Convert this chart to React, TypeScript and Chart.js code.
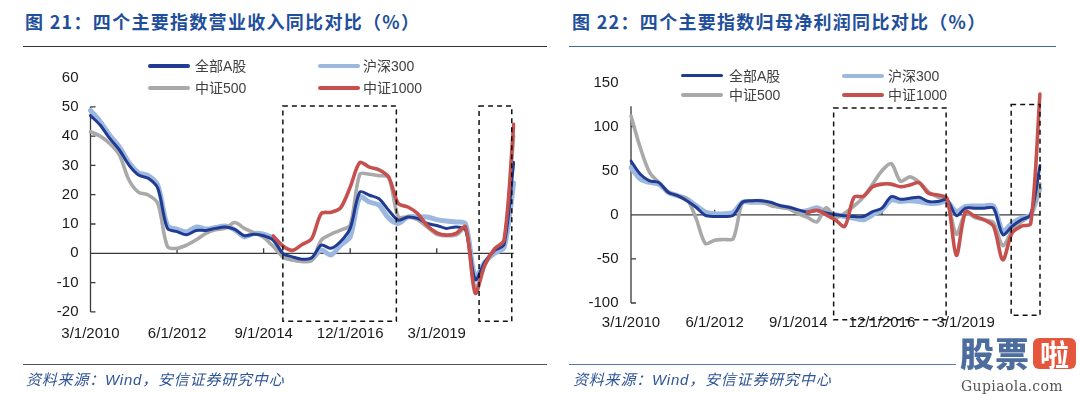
import React, { useEffect, useRef } from "react";
import { Chart, registerables } from "chart.js";

Chart.register(...registerables);

// ---------- data ----------
const CATEGORIES: string[] = [
  "3/1/2010", "6/1/2010", "9/1/2010", "12/1/2010",
  "3/1/2011", "6/1/2011", "9/1/2011", "12/1/2011",
  "3/1/2012", "6/1/2012", "9/1/2012", "12/1/2012",
  "3/1/2013", "6/1/2013", "9/1/2013", "12/1/2013",
  "3/1/2014", "6/1/2014", "9/1/2014", "12/1/2014",
  "3/1/2015", "6/1/2015", "9/1/2015", "12/1/2015",
  "3/1/2016", "6/1/2016", "9/1/2016", "12/1/2016",
  "3/1/2017", "6/1/2017", "9/1/2017", "12/1/2017",
  "3/1/2018", "6/1/2018", "9/1/2018", "12/1/2018",
  "3/1/2019", "6/1/2019", "9/1/2019", "12/1/2019",
  "3/1/2020", "6/1/2020", "9/1/2020", "12/1/2020",
  "3/1/2021",
];
const TICK_LABELS: string[] = ["3/1/2010", "6/1/2012", "9/1/2014", "12/1/2016", "3/1/2019"];
const SERIES_NAMES: string[] = ["全部A股", "沪深300", "中证500", "中证1000"];

// 图21 营业收入同比 (%)
const REV_ALL_A: (number | null)[] = [47, 43.8, 39.2, 35.3, 30.1, 26.7, 25.6, 22.2, 8.5, 7.4, 6.3, 7.8, 7.8, 8.5, 9, 8.2, 6, 6.5, 6, 4.5, 0, -1.2, -2, -1.5, 2.8, 1.7, 4, 8.5, 20.9, 19.8, 18.6, 14.7, 11.3, 12.4, 11.9, 10.2, 9.5, 8.5, 9, 8, -9, -3, 1, 3, 31];
const REV_HS300: (number | null)[] = [48.8, 45, 40.3, 36.3, 31, 27.5, 26.5, 23.2, 9.5, 8.2, 7.3, 9, 8.3, 8.8, 9.3, 8, 5.6, 6.8, 6.5, 5, -1, -2, -2.5, -2, 1.1, -0.6, 2.8, 5.6, 19.2, 17.5, 16.4, 12, 10.2, 12.4, 12.4, 12.4, 11.5, 11, 10.7, 10, -8, -3, 0, 2, 24];
const REV_ZZ500: (number | null)[] = [41.5, 40, 37.5, 33.6, 25, 20.8, 19.9, 17, 2.3, 1.7, 2.8, 4.6, 6.8, 8, 8.5, 10.5, 8.5, 7, 5.5, 2.3, -1.1, -2.3, -2.8, -2.5, 4.5, 6.5, 7.9, 9.6, 27, 27, 26.5, 26, 12.5, 12.4, 11.5, 9, 6.5, 6, 6.2, 8.5, -12, -4, 1, 3.5, 40];
const REV_ZZ1000: (number | null)[] = [null, null, null, null, null, null, null, null, null, null, null, null, null, null, null, null, null, null, null, 5.9, 2.5, 1, 3, 5, 13.6, 14, 15.5, 22.6, 31, 29.4, 28.5, 26, 17, 15.8, 13.6, 9.5, 7, 6.2, 6.8, 9, -13.6, -4, 1.5, 4.5, 44];

// 图22 归母净利润同比 (%)
const NP_ALL_A: (number | null)[] = [61, 46, 38.6, 36.7, 25.5, 21.7, 16, 8.6, -0.7, -1.9, -1.9, -0.7, 14.2, 16, 16, 14.2, 10.5, 8.6, 5.6, 3, 4.9, 2, 0, -1, -2, -2, 3.7, 7.5, 20.6, 17.6, 18.7, 19.9, 15, 15, 16.9, -1, 7.5, 7.5, 7.5, 7.5, -22.5, -13, -5.6, 0, 56];
const NP_HS300: (number | null)[] = [53.5, 40.4, 36.7, 34.8, 25.5, 21.7, 18, 10.5, 3, 1.1, 1.1, 3, 14.2, 14.2, 14.2, 12.4, 9.4, 7.9, 3, 4.9, 8, 3, 0, -2, -4, -5.6, 0, 5.6, 16.9, 15, 16, 15, 13, 13, 15, 3.7, 9.4, 10, 10, 10, -18.7, -9.4, -3.7, 0, 30];
const NP_ZZ500: (number | null)[] = [112, 76, 48, 36.7, 25.5, 21.7, 18, -4, -32.6, -28.8, -28, -27, 14.2, 15.4, 16.1, 10.5, 8.6, 6.7, 1.1, -3, -8, 8, -3, 2, 10, 20, 35, 50, 58, 38, 43, 37, 26, 20, 15, -22, 2, -3, -6, -9, -35, -18, -8, 0, 35];
const NP_ZZ1000: (number | null)[] = [null, null, null, null, null, null, null, null, null, null, null, null, null, null, null, null, null, null, null, 3, 5, 0, -6, -13, 20, 21, 31.8, 34.8, 34.8, 31.8, 33.7, 36.3, 24.3, 22.5, 18.7, -46, 3.7, -1.9, -5.6, -13, -51, -20.6, -13, -10, 137];

// highlighted periods: [fromIndex, toIndex, topValue, bottomValue]
const REV_BOXES: number[][] = [[20, 31.8, 50.3, -23.2], [40.4, 43.8, 50.3, -23.2]];
const NP_BOXES: number[][] = [[21.8, 33.9, 121, -119], [40.9, 44, 125, -114]];

// ---------- styles ----------
const COLORS = ["#1f3b93", "#9db8df", "#a9a9a9", "#c5504e"];
const WIDTHS = [3, 5, 3.6, 3.6];
const SANS = '"Liberation Sans", Arial, "Noto Sans CJK SC", sans-serif';
const CJK = '"Noto Sans CJK SC", "Liberation Sans", sans-serif';
const W = 540;
const H = 394;
const X_AXIS_H = 40;

const framePlugin = {
  id: "frame",
  beforeDatasetsDraw(chart: any, _args: any, opts: any) {
    const { ctx, chartArea: ca, scales } = chart;
    const x = scales.x;
    const y = scales.y;
    ctx.save();
    ctx.strokeStyle = "#3a3a3a";
    ctx.lineWidth = 1.3;
    const y0 = y.getPixelForValue(0);
    ctx.beginPath();
    ctx.moveTo(ca.left, y0);
    ctx.lineTo(ca.right, y0);
    const ax = ca.left;
    ctx.moveTo(ax, y.getPixelForValue(opts.axisTop));
    ctx.lineTo(ax, y.getPixelForValue(y.min));
    for (const t of y.ticks) {
      if (t.value <= opts.axisTop) {
        const py = y.getPixelForValue(t.value);
        ctx.moveTo(ax, py);
        ctx.lineTo(ax + 5, py);
      }
    }
    for (const t of x.ticks) {
      const lbl = CATEGORIES[t.value];
      if (t.value > 0 && TICK_LABELS.includes(lbl)) {
        const px = x.getPixelForValue(t.value);
        ctx.moveTo(px, y0);
        ctx.lineTo(px, y0 - 5);
      }
    }
    ctx.stroke();
    ctx.restore();
  },
  afterDatasetsDraw(chart: any, _args: any, opts: any) {
    const { ctx, scales } = chart;
    const x = scales.x;
    const y = scales.y;
    ctx.save();
    ctx.strokeStyle = "#111";
    ctx.lineWidth = 1.5;
    ctx.setLineDash([5, 4]);
    for (const b of opts.boxes) {
      const x0 = x.getPixelForValue(b[0]);
      const x1 = x.getPixelForValue(b[1]);
      const yt = y.getPixelForValue(b[2]);
      const yb = y.getPixelForValue(b[3]);
      ctx.strokeRect(x0, yt, x1 - x0, yb - yt);
    }
    ctx.restore();
  },
};

type Area = { left: number; right: number; top: number; bottom: number; xPad: number; yPad: number };

function LineChart(props: {
  series: (number | null)[][];
  yMin: number;
  yMax: number;
  yStep: number;
  axisTop: number;
  boxes: number[][];
  area: Area;
  left: number;
}) {
  const ref = useRef<HTMLCanvasElement | null>(null);
  useEffect(() => {
    if (!ref.current) return;
    const { series, area } = props;
    // draw order: first dataset on top
    const order = [3, 0, 2, 1];
    const chart = new Chart(ref.current, {
      type: "line",
      data: {
        labels: CATEGORIES,
        datasets: order.map((k) => ({
          label: SERIES_NAMES[k],
          data: series[k],
          borderColor: COLORS[k],
          backgroundColor: COLORS[k],
          borderWidth: WIDTHS[k],
          pointRadius: 0,
          tension: 0.3,
          borderJoinStyle: "round",
          borderCapStyle: "round",
          fill: false,
        })),
      },
      options: {
        responsive: false,
        animation: false,
        events: [],
        layout: {
          padding: {
            left: 0,
            right: W - area.right,
            top: area.top,
            bottom: H - area.bottom - X_AXIS_H,
          },
        },
        plugins: {
          legend: { display: false },
          tooltip: { enabled: false },
          frame: { axisTop: props.axisTop, boxes: props.boxes },
        } as any,
        scales: {
          x: {
            type: "category",
            offset: false,
            grid: { display: false, drawTicks: false },
            border: { display: false },
            ticks: {
              autoSkip: false,
              maxRotation: 0,
              minRotation: 0,
              padding: area.xPad,
              color: "#1a1a1a",
              font: { family: SANS, size: 15 },
              callback: (_v: any, i: number) => (TICK_LABELS.includes(CATEGORIES[i]) ? CATEGORIES[i] : null),
            },
            afterFit: (s: any) => {
              s.height = X_AXIS_H;
            },
          },
          y: {
            min: props.yMin,
            max: props.yMax,
            grid: { display: false, drawTicks: false },
            border: { display: false },
            ticks: {
              stepSize: props.yStep,
              padding: area.yPad,
              color: "#1a1a1a",
              font: { family: SANS, size: 15 },
            },
            afterFit: (s: any) => {
              s.width = area.left;
            },
          },
        },
      } as any,
      plugins: [framePlugin as any],
    });
    return () => chart.destroy();
  }, []);
  return (
    <canvas
      ref={ref}
      width={W}
      height={H}
      style={{ position: "absolute", left: props.left, top: 0, width: W, height: H }}
    />
  );
}

function Legend(props: { x1: number; x2: number; y1: number; y2: number; tx1: number; tx2: number }) {
  const items = [
    { k: 0, lx: props.x1, tx: props.tx1, y: props.y1 },
    { k: 1, lx: props.x2, tx: props.tx2, y: props.y1 },
    { k: 2, lx: props.x1, tx: props.tx1, y: props.y2 },
    { k: 3, lx: props.x2, tx: props.tx2, y: props.y2 },
  ];
  return (
    <>
      {items.map((it) => (
        <React.Fragment key={it.k}>
          <div
            style={{
              position: "absolute",
              left: it.lx,
              top: it.y - 2,
              width: 42,
              height: it.k === 0 ? 3.5 : 4,
              background: COLORS[it.k],
              borderRadius: 2,
            }}
          />
          <div
            style={{
              position: "absolute",
              left: it.tx,
              top: it.y - 10,
              height: 20,
              lineHeight: "20px",
              fontFamily: SANS,
              fontSize: 14,
              color: "#404040",
              whiteSpace: "nowrap",
            }}
          >
            {SERIES_NAMES[it.k]}
          </div>
        </React.Fragment>
      ))}
    </>
  );
}

const titleStyle: React.CSSProperties = {
  position: "absolute",
  top: 8,
  fontFamily: CJK,
  fontWeight: 700,
  fontSize: 18,
  lineHeight: "26px",
  letterSpacing: 1.3,
  color: "#1f4f9c",
  whiteSpace: "nowrap",
};

const sourceStyle: React.CSSProperties = {
  position: "absolute",
  top: 369,
  fontFamily: SANS,
  fontStyle: "italic",
  fontSize: 15,
  lineHeight: "22px",
  letterSpacing: 0.8,
  color: "#2f5597",
  whiteSpace: "nowrap",
};

export default function App() {
  return (
    <div
      style={{
        position: "fixed",
        left: 0,
        top: 0,
        width: 1080,
        height: 394,
        background: "#fff",
        overflow: "hidden",
      }}
    >
      <div style={{ ...titleStyle, left: 25 }}>图 21：四个主要指数营业收入同比对比（%）</div>
      <div style={{ ...titleStyle, left: 572 }}>图 22：四个主要指数归母净利润同比对比（%）</div>
      <div style={{ position: "absolute", left: 23, top: 45.5, width: 524, height: 1.5, background: "#333" }} />
      <div style={{ position: "absolute", left: 569, top: 46, width: 487, height: 1.3, background: "#4468a0" }} />

      <LineChart
        left={0}
        series={[REV_ALL_A, REV_HS300, REV_ZZ500, REV_ZZ1000]}
        yMin={-20}
        yMax={60}
        yStep={10}
        axisTop={50}
        boxes={REV_BOXES}
        area={{ left: 90.5, right: 513.7, top: 77.5, bottom: 311.9, xPad: 13, yPad: 12 }}
      />
      <LineChart
        left={540}
        series={[NP_ALL_A, NP_HS300, NP_ZZ500, NP_ZZ1000]}
        yMin={-100}
        yMax={150}
        yStep={50}
        axisTop={123}
        boxes={NP_BOXES}
        area={{ left: 91, right: 500, top: 82.5, bottom: 303, xPad: 10.7, yPad: 12.5 }}
      />

      <Legend x1={148} x2={318} y1={66} y2={88} tx1={195} tx2={363} />
      <Legend x1={681} x2={842} y1={75.5} y2={95} tx1={729} tx2={888} />

      <div style={{ position: "absolute", left: 23, top: 363.5, width: 524, height: 1.3, background: "#555" }} />
      <div style={{ position: "absolute", left: 569, top: 363.5, width: 487, height: 1.3, background: "#5a78a8" }} />
      <div style={{ ...sourceStyle, left: 26 }}>资料来源：Wind，安信证券研究中心</div>
      <div style={{ ...sourceStyle, left: 573 }}>资料来源：Wind，安信证券研究中心</div>

      <div style={{ position: "absolute", left: 956, top: 334, width: 124, height: 60, background: "#fff" }}>
        <div
          style={{
            position: "absolute",
            left: 4,
            top: 0,
            fontFamily: CJK,
            fontWeight: 900,
            fontSize: 34,
            lineHeight: "38px",
            letterSpacing: 1,
            color: "#4d6d9f",
            whiteSpace: "nowrap",
          }}
        >
          股票
        </div>
        <div
          style={{
            position: "absolute",
            left: 77,
            top: 4,
            width: 43,
            height: 31,
            background: "#e5573c",
            borderRadius: 6,
            color: "#fff",
            fontFamily: CJK,
            fontWeight: 700,
            fontSize: 29,
            lineHeight: "31px",
            textAlign: "center",
          }}
        >
          啦
        </div>
        <div
          style={{
            position: "absolute",
            left: 5,
            top: 44,
            fontFamily: '"DejaVu Serif", "Liberation Serif", serif',
            fontSize: 14,
            lineHeight: "16px",
            letterSpacing: 0.4,
            color: "#555",
            whiteSpace: "nowrap",
          }}
        >
          Gupiaola.com
        </div>
      </div>
    </div>
  );
}
